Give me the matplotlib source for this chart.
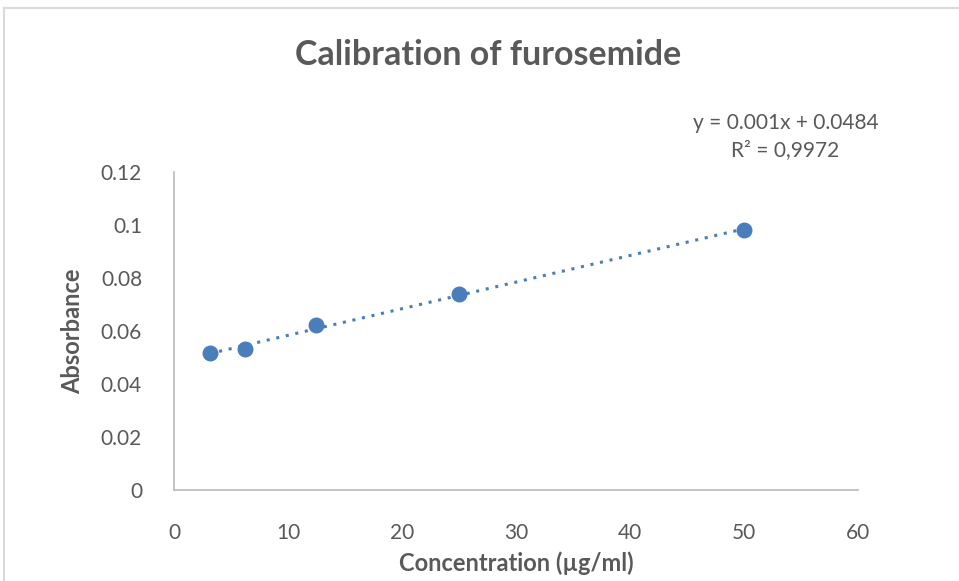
import numpy as np
import matplotlib.pyplot as plt
from matplotlib.lines import Line2D

# calibration data
conc = [3.125, 6.25, 12.5, 25, 50]
absorb = [0.0516, 0.0531, 0.0622, 0.0738, 0.0982]
xticks = [0, 10, 20, 30, 40, 50, 60]
yticks = [0, 0.02, 0.04, 0.06, 0.08, 0.1, 0.12]
ytick_labels = ["0", "0.02", "0.04", "0.06", "0.08", "0.1", "0.12"]

plt.rcParams['font.family'] = ['Lato', 'DejaVu Sans']
grey = "#595959"
blue = "#4a7ebb"

fig = plt.figure(figsize=(9.59, 5.81), dpi=100)
ax = fig.add_axes([0.1814, 0.1566, 0.7133, 0.5474])

# trendline (linear fit)
m, b = np.polyfit(conc, absorb, 1)
xf = np.array([conc[0], conc[-1]])
ax.plot(xf, m * xf + b, linestyle=(0, (1, 2.2)), color=blue, lw=2.2, zorder=2)
ax.scatter(conc, absorb, s=110, color=blue, zorder=3)

ax.set_xlim(0, 60)
ax.set_ylim(0, 0.12)
ax.set_xticks(xticks)
ax.set_yticks(yticks)
ax.set_yticklabels(ytick_labels)
ax.tick_params(length=0, labelsize=15, labelcolor=grey, pad=23)
ax.tick_params(axis='x', pad=24)
for s in ["top", "right"]:
    ax.spines[s].set_visible(False)
for s in ["left", "bottom"]:
    ax.spines[s].set_color("#bfbfbf")
    ax.spines[s].set_linewidth(1.3)

ax.set_xlabel("Concentration (µg/ml)", fontsize=17, fontweight='bold', color=grey, labelpad=6)
ax.set_ylabel("Absorbance", fontsize=17, fontweight='bold', color=grey, labelpad=12)

fig.text(0.509, 0.905, "Calibration of furosemide", ha='center', va='center',
         fontsize=24.5, fontweight='bold', color=grey)
fig.text(0.819, 0.765, "y = 0.001x + 0.0484\nR² = 0,9972", ha='center', va='center',
         fontsize=15, color=grey, linespacing=1.45)

# chart frame
fig.add_artist(Line2D([0.0045, 1.0], [0.986, 0.986], color="#d9d9d9", lw=1.5, transform=fig.transFigure))
fig.add_artist(Line2D([0.0045, 0.0045], [0.0, 0.986], color="#d9d9d9", lw=1.5, transform=fig.transFigure))

plt.savefig("out.png", dpi=100)
